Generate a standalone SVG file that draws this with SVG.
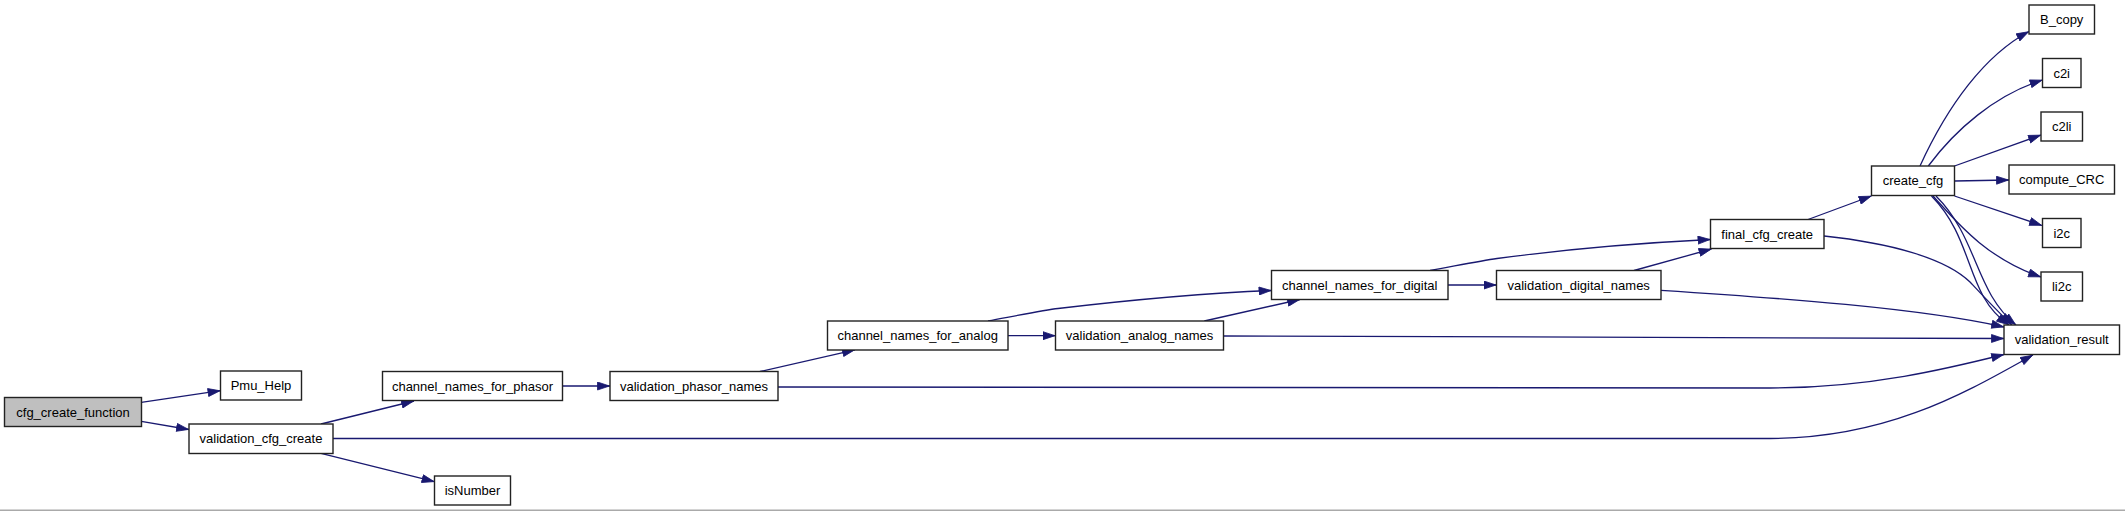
<svg xmlns="http://www.w3.org/2000/svg" width="2125" height="511" viewBox="0 0 2125 511">
<style>
.n rect{fill:#ffffff;stroke:#222222;stroke-width:1.4}
.n.root rect{fill:#bfbfbf}
.n text{font-family:"Liberation Sans",Arial,sans-serif;font-size:13px;fill:#000000;text-anchor:middle}
#edges path{fill:none;stroke:#191970;stroke-width:1.3;marker-end:url(#arr)}
</style>
<defs>
<marker id="arr" viewBox="0 0 13 9" refX="13" refY="4.5" markerWidth="13" markerHeight="9" markerUnits="userSpaceOnUse" orient="auto">
<path d="M0.5,0.5 L12.5,4.5 L0.5,8.5 z" fill="#191970" stroke="#191970" stroke-width="0.8"/>
</marker>
</defs>
<rect x="0" y="0" width="2125" height="511" fill="#ffffff"/>
<rect x="0" y="509.5" width="2125" height="1.5" fill="#aaaaaa"/>
<g id="edges">
<path d="M141.3,402.3 L220.5,390.7"/>
<path d="M141.3,421.3 L189,429.5"/>
<path d="M321,424 L414,401"/>
<path d="M321,453.3 L434.5,481.7"/>
<path d="M333,438.5 L1770,438.5 C1890,438.5 1970,390 2033,355"/>
<path d="M562.5,386 L610,386"/>
<path d="M760,371.5 L855,349.8"/>
<path d="M778,387 L1770,388 C1870,388 1950,368 2004,354.5"/>
<path d="M1008,335.7 L1055.5,335.7"/>
<path d="M988,321 C1020,315 1045,310 1058,308.5 C1130,300 1210,293 1271.5,290.5"/>
<path d="M1204.3,321 L1300,299.5"/>
<path d="M1223.5,336 L2004,338.5"/>
<path d="M1448,285 L1496.5,285"/>
<path d="M1430,270.5 C1455,266 1480,261 1497,258.5 C1560,250 1640,243 1710.5,239.5"/>
<path d="M1634,270.5 L1711.5,249"/>
<path d="M1661,290.3 C1780,298 1920,308 2004,327"/>
<path d="M1806.7,220 L1871.5,196"/>
<path d="M1824,236 C1890,243 1945,258 1970,282 C1985,298 1998,312 2012,325"/>
<path d="M1920,166 C1948,105 1985,55 2029,31.5"/>
<path d="M1928.3,166 C1955,130 1995,95 2042.5,80"/>
<path d="M1954.5,166 L2041,135"/>
<path d="M1954.5,181 L2009,180"/>
<path d="M1954.5,196 L2042,225.5"/>
<path d="M1933,196 C1955,220 1985,258 2041,277"/>
<path d="M1931.5,196 C1975,240 1965,295 2009,325"/>
<path d="M1936,196 C1978,238 1975,292 2016,325"/>
</g>
<g id="node-cfg_create_function" class="n root"><rect x="4.5" y="397.5" width="137" height="29"/><text x="73" y="416.5">cfg_create_function</text></g>
<g id="node-Pmu_Help" class="n"><rect x="220.5" y="371" width="81" height="29"/><text x="261" y="390">Pmu_Help</text></g>
<g id="node-validation_cfg_create" class="n"><rect x="189" y="424" width="144" height="29.5"/><text x="261" y="443.2">validation_cfg_create</text></g>
<g id="node-channel_names_for_phasor" class="n"><rect x="382.5" y="371.5" width="180" height="29"/><text x="472.5" y="390.5">channel_names_for_phasor</text></g>
<g id="node-isNumber" class="n"><rect x="434.5" y="476" width="76" height="29"/><text x="472.5" y="495">isNumber</text></g>
<g id="node-validation_phasor_names" class="n"><rect x="610" y="371.5" width="168" height="29"/><text x="694" y="390.5">validation_phasor_names</text></g>
<g id="node-channel_names_for_analog" class="n"><rect x="827.5" y="321" width="180.5" height="29"/><text x="917.7" y="340">channel_names_for_analog</text></g>
<g id="node-validation_analog_names" class="n"><rect x="1055.5" y="321" width="168" height="29"/><text x="1139.5" y="340">validation_analog_names</text></g>
<g id="node-channel_names_for_digital" class="n"><rect x="1271.5" y="270.5" width="176.5" height="29"/><text x="1359.7" y="289.5">channel_names_for_digital</text></g>
<g id="node-validation_digital_names" class="n"><rect x="1496.5" y="270.5" width="164.5" height="29"/><text x="1578.7" y="289.5">validation_digital_names</text></g>
<g id="node-final_cfg_create" class="n"><rect x="1710.5" y="219.5" width="113.5" height="29"/><text x="1767.2" y="238.5">final_cfg_create</text></g>
<g id="node-create_cfg" class="n"><rect x="1871.5" y="166" width="83" height="29.5"/><text x="1913" y="185.2">create_cfg</text></g>
<g id="node-B_copy" class="n"><rect x="2029" y="5" width="65.5" height="29"/><text x="2061.7" y="24">B_copy</text></g>
<g id="node-c2i" class="n"><rect x="2042.5" y="58.5" width="38.5" height="29"/><text x="2061.7" y="77.5">c2i</text></g>
<g id="node-c2li" class="n"><rect x="2041" y="112" width="41.5" height="29"/><text x="2061.7" y="131">c2li</text></g>
<g id="node-compute_CRC" class="n"><rect x="2009" y="165" width="105.5" height="29"/><text x="2061.7" y="184">compute_CRC</text></g>
<g id="node-i2c" class="n"><rect x="2042.5" y="218.5" width="38.5" height="29"/><text x="2061.7" y="237.5">i2c</text></g>
<g id="node-li2c" class="n"><rect x="2041" y="272" width="41.5" height="29"/><text x="2061.7" y="291">li2c</text></g>
<g id="node-validation_result" class="n"><rect x="2004" y="325" width="115.5" height="29.5"/><text x="2061.7" y="344.2">validation_result</text></g>
</svg>
